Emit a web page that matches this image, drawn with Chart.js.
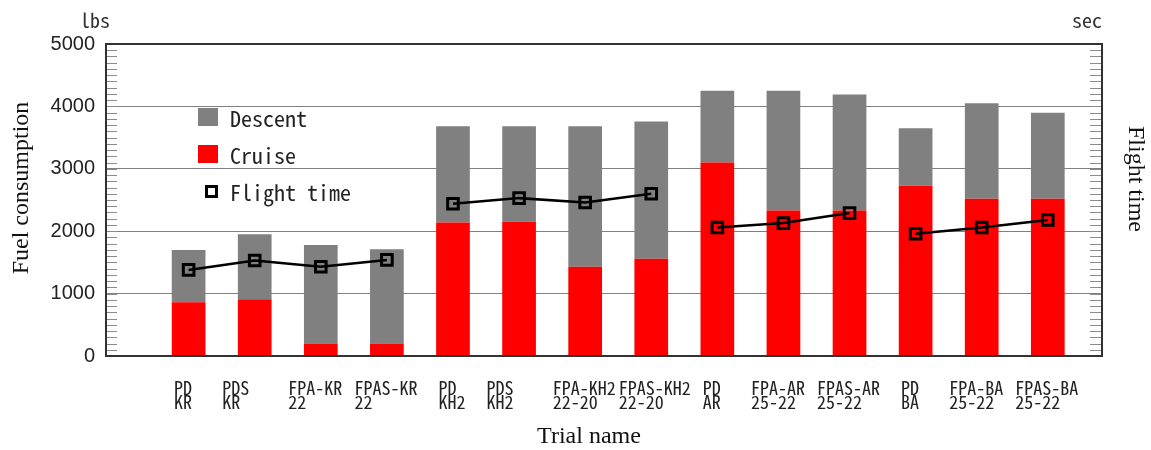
<!DOCTYPE html>
<html>
<head>
<meta charset="utf-8">
<script src="https://cdn.jsdelivr.net/npm/chart.js@4.4.0/dist/chart.umd.min.js"></script>
<style>
  html, body { margin: 0; padding: 0; background: #fff; }
  #wrap { position: relative; width: 1151px; height: 450px; }
  .unit { position: absolute; top: 10px; font: 20px/20px 'Noto Sans Mono CJK JP', 'DejaVu Sans Mono', monospace; color: #333; }
  #legend { position: absolute; left: 198px; top: 108px; font: 22px/18px 'Noto Sans Mono CJK JP', 'DejaVu Sans Mono', monospace; color: #222; }
  #legend .row { display: flex; align-items: center; height: 18px; margin-bottom: 19px; white-space: pre; }
  #legend .sw { width: 20px; height: 18px; margin-right: 12px; }
  #legend .mk { box-sizing: border-box; width: 13px; height: 13px; border: 3px solid #000; background: #fff; margin: 0 12px 0 7px; }
</style>
</head>
<body>
<div id="wrap">
  <canvas id="chart" width="1151" height="450"></canvas>
  <div class="unit" style="left:80px">lbs</div>
  <div class="unit" style="right:49px">sec</div>
  <div id="legend"></div>
</div>
<script>
// trial names, two lines each (the PD runs are indented like the originals)
const labelTop    = ['  PD', 'PDS', 'FPA-KR', 'FPAS-KR', '  PD', 'PDS', 'FPA-KH2', 'FPAS-KH2', '  PD', 'FPA-AR', 'FPAS-AR', '  PD', 'FPA-BA', 'FPAS-BA'];
const labelBottom = ['  KR', 'KR', '22', '22', '  KH2', 'KH2', '22-20', '22-20', '  AR', '25-22', '25-22', '  BA', '25-22', '25-22'];
// route each trial belongs to; the flight time line is only joined inside a route
const routeGroup  = ['KR', 'KR', 'KR', 'KR', 'KH2', 'KH2', 'KH2', 'KH2', 'AR', 'AR', 'AR', 'BA', 'BA', 'BA'];

// fuel consumption [lbs]
const fuelCruise  = [860, 910, 200, 200, 2140, 2150, 1430, 1560, 3100, 2330, 2330, 2730, 2520, 2520];
const fuelDescent = [840, 1040, 1580, 1510, 1540, 1530, 2250, 2200, 1150, 1920, 1860, 920, 1530, 1380];
// flight time, plotted against the right axis
const flightTime  = [1380, 1530, 1430, 1540, 2440, 2530, 2460, 2600, 2060, 2130, 2290, 1960, 2060, 2180];

const yTicks = [0, 1000, 2000, 3000, 4000, 5000];
const minorStep = 100;

const monoFont = "'Noto Sans Mono CJK JP', 'DejaVu Sans Mono', monospace";
const serifFont = "'Liberation Serif', 'Times New Roman', serif";

// small inward ticks on both vertical axes plus the dark box around the plot
const frameTicks = {
    id: 'frameTicks',
    afterDraw(chart) {
        const {ctx, chartArea: a, scales: {y}} = chart;
        ctx.save();
        ctx.strokeStyle = '#8c8c8c';
        ctx.lineWidth = 1;
        ctx.beginPath();
        for (let v = y.min; v <= y.max; v += minorStep) {
            const py = Math.round(y.getPixelForValue(v)) + 0.5;
            ctx.moveTo(a.left, py);
            ctx.lineTo(a.left + 11, py);
            ctx.moveTo(a.right - 12, py);
            ctx.lineTo(a.right, py);
        }
        ctx.stroke();
        ctx.strokeStyle = '#333';
        ctx.lineWidth = 2;
        ctx.strokeRect(a.left, a.top, a.right - a.left, a.bottom - a.top);
        ctx.restore();
    }
};

const chart = new Chart(document.getElementById('chart'), {
    type: 'bar',
    data: {
        labels: labelTop.map((_, i) => i),
        datasets: [
            {
                label: 'Descent',
                data: fuelDescent,
                backgroundColor: '#808080',
                order: 2,
                barPercentage: 0.51,
                categoryPercentage: 1,
            },
            {
                label: 'Cruise',
                data: fuelCruise,
                backgroundColor: '#ff0000',
                order: 1,
                barPercentage: 0.51,
                categoryPercentage: 1,
            },
            {
                type: 'line',
                label: 'Flight time',
                data: flightTime,
                yAxisID: 'y2',
                order: 0,
                borderColor: '#000',
                borderWidth: 2.5,
                pointStyle: 'rect',
                pointRadius: 7.5,
                pointBorderWidth: 3,
                pointBorderColor: '#000',
                pointBackgroundColor: 'rgba(0,0,0,0)',
                segment: {
                    borderColor: c => routeGroup[c.p0DataIndex] === routeGroup[c.p1DataIndex] ? '#000' : 'rgba(0,0,0,0)',
                },
            },
        ]
    },
    options: {
        responsive: false,
        animation: false,
        layout: { padding: { top: 44, left: 0, right: 0, bottom: 0 } },
        plugins: { legend: { display: false }, tooltip: { enabled: false } },
        scales: {
            x: {
                type: 'linear',
                min: -1.25,
                max: 13.82,
                offset: false,
                stacked: true,
                grid: { display: false },
                border: { display: false },
                afterBuildTicks: s => { s.ticks = labelTop.map((_, i) => ({ value: i })); },
                afterFit: s => { s.height = 94; },
                ticks: {
                    autoSkip: false,
                    maxRotation: 0,
                    minRotation: 0,
                    align: 'start',
                    labelOffset: -32.5,
                    padding: 17,
                    color: '#222',
                    font: { family: monoFont, size: 18, lineHeight: 0.78 },
                    callback: v => [labelTop[v], labelBottom[v]],
                },
                title: {
                    display: true,
                    text: 'Trial name     ',
                    color: '#111',
                    font: { family: serifFont, size: 24, lineHeight: 1 },
                    padding: { top: 0, bottom: 1 },
                },
            },
            y: {
                stacked: true,
                min: 0,
                max: 5000,
                afterBuildTicks: s => { s.ticks = yTicks.map(v => ({ value: v })); },
                afterFit: s => { s.width = 106; },
                grid: { color: '#808080', drawTicks: false },
                border: { display: false },
                ticks: {
                    padding: 11,
                    color: '#222',
                    font: { family: "'Liberation Sans', Arial, sans-serif", size: 20 },
                    callback: v => String(v),
                },
                title: {
                    display: true,
                    text: '    Fuel consumption',
                    color: '#111',
                    font: { family: serifFont, size: 24, lineHeight: 1 },
                    padding: { top: 10, bottom: 0 },
                },
            },
            y2: {
                position: 'right',
                min: 0,
                max: 5000,
                afterFit: s => { s.width = 49; },
                grid: { display: false },
                border: { display: false },
                ticks: { display: false },
                title: {
                    display: true,
                    text: 'Flight time       ',
                    color: '#111',
                    font: { family: serifFont, size: 24, lineHeight: 1 },
                    padding: { top: 4, bottom: 0 },
                },
            },
        }
    },
    plugins: [frameTicks]
});

// legend placed inside the plot, built from the datasets
const legendBox = document.getElementById('legend');
chart.data.datasets.forEach(ds => {
    const row = document.createElement('div');
    row.className = 'row';
    const sw = document.createElement('span');
    if (ds.type === 'line') {
        sw.className = 'mk';
    } else {
        sw.className = 'sw';
        sw.style.background = ds.backgroundColor;
    }
    row.appendChild(sw);
    row.appendChild(document.createTextNode(ds.label));
    legendBox.appendChild(row);
});
</script>
</body>
</html>
